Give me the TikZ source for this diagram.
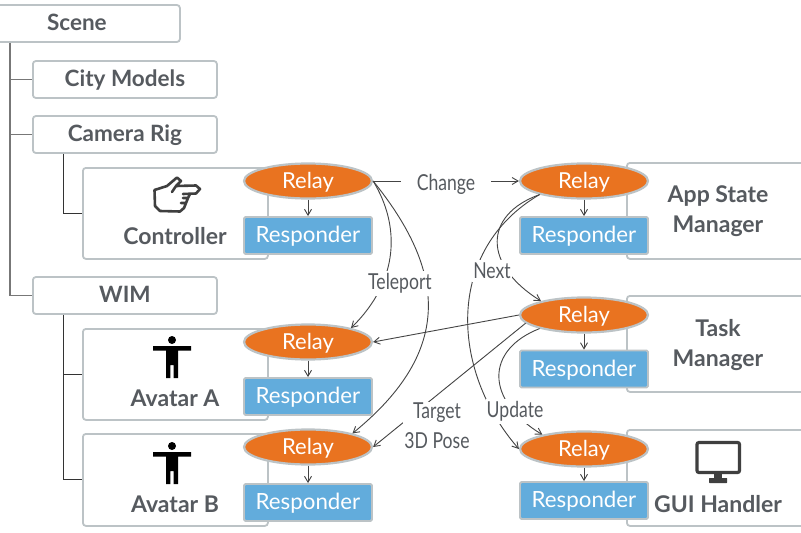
\documentclass[tikz,border=0pt]{standalone}
\usepackage{fontspec}
\setmainfont{Lato}
\newfontfamily\condfont[FakeStretch=0.8]{Lato}
\usetikzlibrary{shapes.geometric,arrows.meta}
\definecolor{boxline}{HTML}{BCC3C6}
\definecolor{labeltxt}{HTML}{565A5F}
\definecolor{relayfill}{HTML}{E97320}
\definecolor{respfill}{HTML}{62ACDC}
\definecolor{trunk}{HTML}{777777}
\definecolor{wire}{HTML}{444444}
\definecolor{icon}{HTML}{3F3F3F}
\tikzset{
  treebox/.style={draw=boxline,line width=1.8pt,rounded corners=3pt,fill=white,minimum height=37pt,inner sep=0pt,anchor=west,text=labeltxt,text height=16pt,text depth=2pt,font=\fontsize{22.5}{24}\selectfont\bfseries},
  holder/.style={draw=boxline,line width=1.8pt,rounded corners=3pt,fill=white,inner sep=0pt,anchor=north west},
  relaynode/.style={ellipse,draw=boxline,line width=2.2pt,fill=relayfill,minimum width=128pt,minimum height=35pt,inner sep=0pt,text=white,text height=16pt,text depth=2pt,font=\fontsize{22}{24}\selectfont},
  respnode/.style={draw=boxline,line width=1.8pt,rounded corners=1.5pt,fill=respfill,minimum width=128pt,minimum height=37pt,inner sep=0pt,text=white,text height=16pt,text depth=2pt,font=\fontsize{22.3}{24}\selectfont},
  boxlabel/.style={text=labeltxt,font=\fontsize{23}{30}\selectfont\bfseries,align=center,inner sep=0pt},
  msg/.style={fill=white,text=labeltxt,font=\fontsize{22}{30}\selectfont\condfont,align=center},
  wireline/.style={draw=wire,line width=.9pt},
  wirearrow/.style={wireline,-{Straight Barb[length=6pt,width=7pt]}},
  trunkline/.style={draw=trunk,line width=1.5pt},
  branch/.style={draw=black!80,line width=1pt},
}
\begin{document}
\begin{tikzpicture}[x=1pt,y=-1pt]
\useasboundingbox (0,0) rectangle (801,533);
\fill[white] (0,0) rectangle (801,533);
% tree anchors
\coordinate (t0) at (10,42);
\coordinate (t1) at (63,153);
\coordinate (t2) at (63,314);
% holder boxes
\node[holder,minimum width=185pt,minimum height=91pt] (hc) at (82,167) {};
\node[holder,minimum width=185pt,minimum height=91pt] (ha) at (82,328) {};
\node[holder,minimum width=185pt,minimum height=92pt] (hb) at (82,433) {};
\node[holder,minimum width=190pt,minimum height=96pt] (hs) at (626,162) {};
\node[holder,minimum width=190pt,minimum height=96pt] (ht) at (626,295) {};
\node[holder,minimum width=190pt,minimum height=96pt] (hg) at (626,429) {};
% tree boxes
\node[treebox,minimum width=189pt] (scene) at (-10,23.5) {\hspace*{-17pt}Scene};
\node[treebox,minimum width=184pt] (city) at (32,79.5) {City Models};
\node[treebox,minimum width=184pt] (cam) at (32,134.5) {Camera Rig};
\node[treebox,minimum width=184pt] (wim) at (32,295.5) {WIM};
% tree lines
\draw[trunkline] (t0 |- scene.south) -- (t0 |- wim.west) -- (wim.west);
\draw[trunkline,line width=1pt] (t0 |- city.west) -- (city.west);
\draw[trunkline,line width=1pt] (t0 |- cam.west) -- (cam.west);
\draw[branch] (t1 |- cam.south) |- (hc.west);
\draw[branch] (t2 |- wim.south) |- (hb.west);
\draw[branch] (t2 |- ha.west) -- (ha.west);
% relays and responders
\node[relaynode] (r1) at (308,181) {Relay};
\node[respnode] (p1) at (308,235.5) {Responder};
\node[relaynode] (r2) at (308,342) {Relay};
\node[respnode] (p2) at (308,396.5) {Responder};
\node[relaynode] (r3) at (308,447) {Relay};
\node[respnode] (p3) at (308,502.5) {Responder};
\node[relaynode] (r4) at (584,181) {Relay};
\node[respnode] (p4) at (584,235.5) {Responder};
\node[relaynode] (r5) at (584,315) {Relay};
\node[respnode] (p5) at (584,369) {Responder};
\node[relaynode] (r6) at (584,449) {Relay};
\node[respnode] (p6) at (584,500.5) {Responder};
\foreach \a/\b in {r1/p1,r2/p2,r3/p3,r4/p4,r5/p5,r6/p6}
  \draw[wirearrow] (\a.south) -- (\b.north);
% messages
\draw[wirearrow] (r1.east) -- (r4.west);
\draw[wirearrow] (r1.east) .. controls (400,225) and (400,280) .. (r2.18);
\draw[wirearrow] (r1.east) .. controls (445,270) and (455,350) .. (r3.17);
\draw[wirearrow] (r4.197) .. controls (483,215) and (483,265) .. (r5.162);
\draw[wirearrow] (r4.197) .. controls (445,250) and (450,370) .. (r6.west);
\draw[wirearrow] (r5.west) -- (r2.east);
\draw[wirearrow] (r5.188) -- (r3.east);
\draw[wirearrow] (r5.197) .. controls (485,350) and (485,400) .. (r6.161);
% message labels
\node[msg,inner xsep=16pt,inner ysep=1pt] (mchange) at (446,184.5) {Change};
\node[msg,inner xsep=1pt,inner ysep=3pt] (mtele) at (400,283.5) {Teleport};
\node[msg,inner xsep=1pt,inner ysep=3pt] (mnext) at (492,271) {Next};
\node[msg,inner xsep=1pt,inner ysep=3pt] (mupd) at (515,411.5) {Update};
\node[msg,inner xsep=1pt,inner ysep=1pt] (mtarget) at (437,426) {Target\\3D Pose};
% box labels
\node[boxlabel] (lc) at (175,236.5) {Controller};
\node[boxlabel] (la) at (175,398) {Avatar A};
\node[boxlabel] (lb) at (175,504) {Avatar B};
\node[boxlabel] (ls) at (718,211) {App State\\Manager};
\node[boxlabel] (lt) at (718,345) {Task\\Manager};
\node[boxlabel] (lg) at (718,504) {GUI Handler};
% person icons
\foreach \dy in {0,106}{
  \begin{scope}[yshift=-\dy pt]
    \fill[black] (172,340) circle (4);
    \fill[black] (153,346) -- (191,346) -- (191,350.5) -- (178,350.5) -- (178,378) -- (173.7,378) -- (173.7,365) -- (170.3,365) -- (170.3,378) -- (166,378) -- (166,350.5) -- (153,350.5) -- cycle;
  \end{scope}
}
% monitor icon
\draw[icon,line width=3.2pt,rounded corners=2pt] (697,442.5) rectangle (739.5,472.5);
\fill[icon] (714,473) rectangle (722,479);
\fill[icon,rounded corners=.5pt] (709,478) rectangle (727,483);
% hand icon
\draw[icon,line width=2.6pt,line join=round,line cap=round]
  (154.5,190) -- (167,186) -- (177,177.5) -- (181,181) -- (176,186) -- (196,185.5) -- (200,189) -- (196,193.5) -- (183,194)
  (190,194) -- (188,198) -- (183,198)
  (188,198) -- (186,203) -- (181,203)
  (186,203) -- (184,208) -- (180,211.5) -- (160,211) -- (155,206) -- (154.5,190)
  (176,186) -- (172,192);
\end{tikzpicture}
\end{document}
